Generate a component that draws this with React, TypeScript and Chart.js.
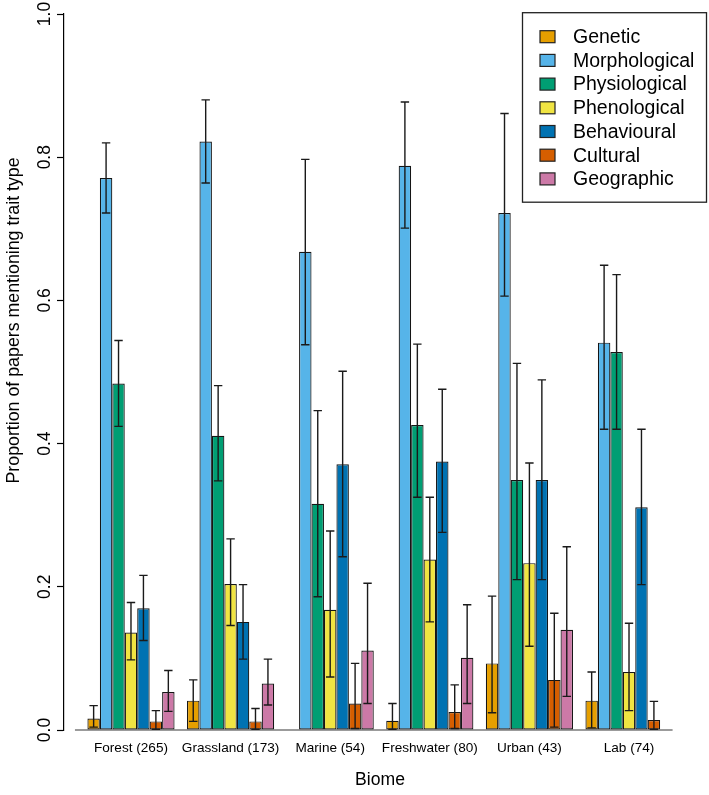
import React, { useEffect, useRef } from 'react';
import { Chart, registerables } from 'chart.js';

Chart.register(...registerables);

const FONT = '"Liberation Sans", Arial, Helvetica, sans-serif';

const categories = ['Forest (265)', 'Grassland (173)', 'Marine (54)', 'Freshwater (80)', 'Urban (43)', 'Lab (74)'];
const seriesNames = ['Genetic', 'Morphological', 'Physiological', 'Phenological', 'Behavioural', 'Cultural', 'Geographic'];
const seriesColors = ['#E69F00', '#56B4E9', '#009E73', '#F0E442', '#0072B2', '#D55E00', '#CC79A7'];
const yTickValues = [0, 0.2, 0.4, 0.6, 0.8, 1.0];
const yTitle = 'Proportion of papers mentioning trait type';
const xTitle = 'Biome';

const genetic = [0.016, 0.041, 0, 0.013, 0.093, 0.041];
const geneticLo = [0.004, 0.012, 0, 0.001, 0.024, 0.003];
const geneticHi = [0.034, 0.07, 0, 0.037, 0.187, 0.081];

const morphological = [0.771, 0.822, 0.668, 0.788, 0.722, 0.541];
const morphologicalLo = [0.722, 0.764, 0.538, 0.701, 0.606, 0.42];
const morphologicalHi = [0.82, 0.88, 0.797, 0.877, 0.861, 0.649];

const physiological = [0.484, 0.411, 0.316, 0.426, 0.349, 0.528];
const physiologicalLo = [0.424, 0.348, 0.186, 0.325, 0.21, 0.42];
const physiologicalHi = [0.544, 0.481, 0.446, 0.539, 0.512, 0.636];

const phenological = [0.136, 0.204, 0.168, 0.238, 0.233, 0.081];
const phenologicalLo = [0.098, 0.146, 0.074, 0.151, 0.117, 0.027];
const phenologicalHi = [0.178, 0.267, 0.278, 0.325, 0.373, 0.149];

const behavioural = [0.17, 0.151, 0.371, 0.375, 0.349, 0.311];
const behaviouralLo = [0.125, 0.099, 0.242, 0.276, 0.21, 0.203];
const behaviouralHi = [0.216, 0.203, 0.501, 0.476, 0.489, 0.42];

const cultural = [0.012, 0.012, 0.037, 0.025, 0.07, 0.014];
const culturalLo = [0.001, 0.001, 0.002, 0.002, 0.004, 0.001];
const culturalHi = [0.027, 0.03, 0.093, 0.063, 0.163, 0.04];

const geographic = [0.053, 0.065, 0.111, 0.101, 0.14, 0];
const geographicLo = [0.026, 0.035, 0.037, 0.037, 0.047, 0];
const geographicHi = [0.083, 0.099, 0.205, 0.175, 0.256, 0];

const seriesValues = [genetic, morphological, physiological, phenological, behavioural, cultural, geographic];
const seriesLo = [geneticLo, morphologicalLo, physiologicalLo, phenologicalLo, behaviouralLo, culturalLo, geographicLo];
const seriesHi = [geneticHi, morphologicalHi, physiologicalHi, phenologicalHi, behaviouralHi, culturalHi, geographicHi];

// R barplot geometry (beside=TRUE, space=c(0,1)) expressed in group-index coordinates
const unitsPerGroup = seriesNames.length + 1;
const lastUnit = categories.length * unitsPerGroup;
const ext = 0.04 * (lastUnit - 1);
const uToIdx = (u: number) => (u - (1 + seriesNames.length / 2)) / unitsPerGroup;
const xMin = uToIdx(1 - ext);
const xMax = uToIdx(lastUnit + ext);

const baselinePlugin = {
  id: 'baseline',
  beforeDatasetsDraw(chart: any) {
    const { ctx, scales } = chart;
    const y0 = scales.y.getPixelForValue(0);
    ctx.save();
    ctx.strokeStyle = '#7a7a7a';
    ctx.lineWidth = 1.3;
    ctx.beginPath();
    ctx.moveTo(scales.x.getPixelForValue(uToIdx(0)), y0);
    ctx.lineTo(scales.x.getPixelForValue(uToIdx(lastUnit)), y0);
    ctx.stroke();
    ctx.restore();
  },
};

const errorBarPlugin = {
  id: 'errorBars',
  afterDatasetsDraw(chart: any) {
    const { ctx, scales } = chart;
    ctx.save();
    ctx.strokeStyle = '#1a1a1a';
    ctx.lineWidth = 1.4;
    chart.data.datasets.forEach((ds: any, di: number) => {
      const meta = chart.getDatasetMeta(di);
      meta.data.forEach((bar: any, i: number) => {
        const lo = ds.errLo[i];
        const hi = ds.errHi[i];
        if (hi - lo <= 0) return;
        const x = bar.x;
        const p1 = scales.y.getPixelForValue(lo);
        const p2 = scales.y.getPixelForValue(hi);
        ctx.beginPath();
        ctx.moveTo(x, p1);
        ctx.lineTo(x, p2);
        ctx.moveTo(x - 4.2, p1);
        ctx.lineTo(x + 4.2, p1);
        ctx.moveTo(x - 4.2, p2);
        ctx.lineTo(x + 4.2, p2);
        ctx.stroke();
      });
    });
    ctx.restore();
  },
};

const annotationPlugin = {
  id: 'legendAndTitle',
  afterDraw(chart: any) {
    const { ctx, chartArea } = chart;
    // legend box
    const x0 = chartArea.right - 173.5;
    const y0 = chartArea.top - 1.3;
    const w = 184;
    const h = 189.5;
    ctx.save();
    ctx.fillStyle = '#ffffff';
    ctx.fillRect(x0, y0, w, h);
    ctx.strokeStyle = '#222';
    ctx.lineWidth = 1.3;
    ctx.strokeRect(x0, y0, w, h);
    ctx.font = `19.5px ${FONT}`;
    ctx.textBaseline = 'middle';
    ctx.textAlign = 'left';
    chart.data.datasets.forEach((ds: any, i: number) => {
      const cy = y0 + 24 + i * 23.7;
      ctx.fillStyle = ds.backgroundColor;
      ctx.fillRect(x0 + 17.5, cy - 6, 15, 12);
      ctx.strokeStyle = '#222';
      ctx.lineWidth = 1.2;
      ctx.strokeRect(x0 + 17.5, cy - 6, 15, 12);
      ctx.fillStyle = '#000';
      ctx.fillText(ds.label, x0 + 50.5, cy + 1);
    });
    // y-axis title (the original plot region extends above the cropped picture)
    ctx.translate(14, chartArea.bottom - 0.572 * (chartArea.bottom - chartArea.top));
    ctx.rotate(-Math.PI / 2);
    ctx.font = `17.8px ${FONT}`;
    ctx.textAlign = 'center';
    ctx.textBaseline = 'middle';
    ctx.fillStyle = '#000';
    ctx.fillText(yTitle, 0, 0);
    ctx.restore();
  },
};

export default function App() {
  const canvasRef = useRef<HTMLCanvasElement | null>(null);

  useEffect(() => {
    if (!canvasRef.current) return;
    Chart.defaults.font.family = FONT;
    Chart.defaults.color = '#000';

    const datasets = seriesNames.map((name, s) => ({
      label: name,
      data: seriesValues[s].map((v, i) => ({ x: i, y: v })),
      errLo: seriesLo[s],
      errHi: seriesHi[s],
      backgroundColor: seriesColors[s],
      borderColor: '#151515',
      borderWidth: 1.2,
      borderSkipped: false,
      categoryPercentage: seriesNames.length / unitsPerGroup,
      barPercentage: 1,
    }));

    const chart = new Chart(canvasRef.current, {
      type: 'bar',
      data: { datasets } as any,
      plugins: [baselinePlugin, errorBarPlugin, annotationPlugin],
      options: {
        animation: false,
        responsive: false,
        devicePixelRatio: 1,
        layout: { padding: { top: 14, right: 13, left: 0, bottom: 0 } },
        plugins: {
          legend: { display: false },
          tooltip: { enabled: false },
        },
        scales: {
          x: {
            type: 'linear',
            min: xMin,
            max: xMax,
            offset: false,
            grid: { display: false, drawTicks: false },
            border: { display: false },
            afterBuildTicks: (scale: any) => {
              scale.ticks = categories.map((_, i) => ({ value: i }));
            },
            afterFit: (scale: any) => {
              scale.height = 65;
            },
            ticks: {
              autoSkip: false,
              maxRotation: 0,
              minRotation: 0,
              padding: 9.8,
              font: { size: 13.6 },
              color: '#000',
              callback: (v: any) => categories[Math.round(Number(v))],
            },
            title: {
              display: true,
              text: xTitle,
              font: { size: 17.6 },
              color: '#000',
              padding: { top: 0, bottom: 4.4 },
            },
          },
          y: {
            type: 'linear',
            min: 0,
            max: 1,
            afterBuildTicks: (scale: any) => {
              scale.ticks = yTickValues.map((v) => ({ value: v }));
            },
            afterFit: (scale: any) => {
              scale.width = 64;
            },
            grid: {
              display: true,
              drawOnChartArea: false,
              drawTicks: true,
              tickLength: 7,
              tickColor: '#000',
              tickWidth: 1.2,
            },
            border: { display: true, color: '#000', width: 1.2 },
            ticks: {
              minRotation: 90,
              maxRotation: 90,
              crossAlign: 'center',
              padding: 0,
              font: { size: 17.5 },
              color: '#000',
              callback: (v: any) => Number(v).toFixed(1),
            },
            title: { display: false },
          },
        },
      } as any,
    });

    return () => {
      chart.destroy();
    };
  }, []);

  return (
    <div style={{ position: 'absolute', left: 0, top: 0, width: 709, height: 795, background: '#fff' }}>
      <canvas ref={canvasRef} width={709} height={795} style={{ display: 'block', width: 709, height: 795 }} />
    </div>
  );
}
